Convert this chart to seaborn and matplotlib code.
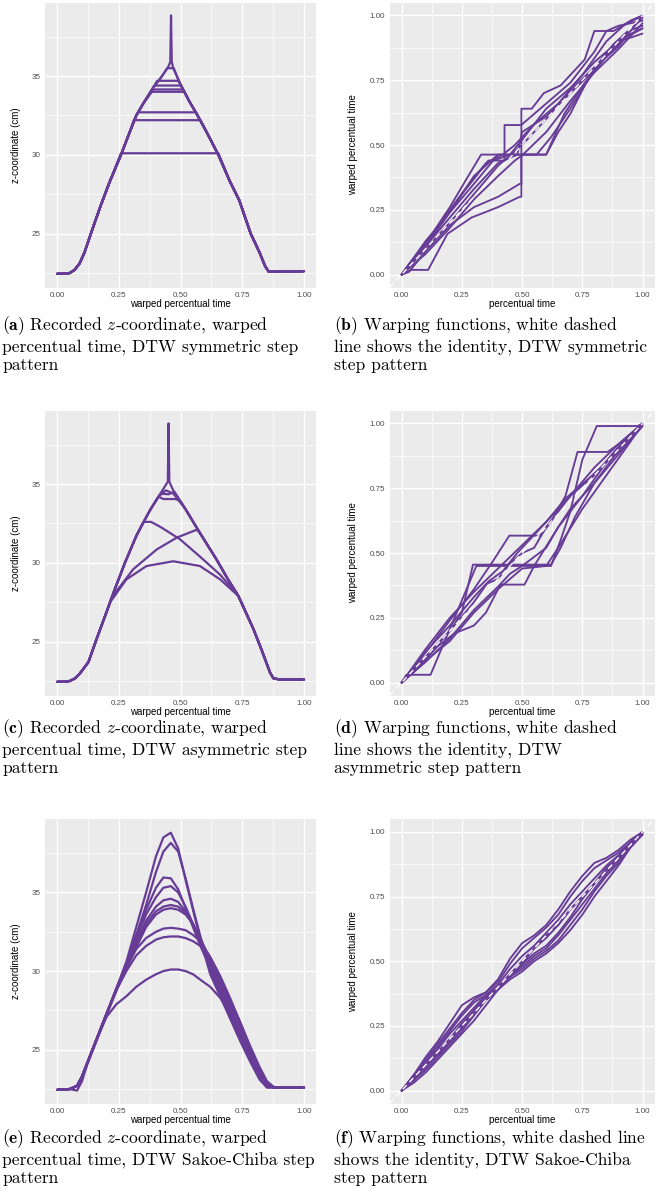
import matplotlib
matplotlib.use("Agg")
import numpy as np
import pandas as pd
import matplotlib.pyplot as plt
import seaborn as sns

PURPLE = "#673c97"

# ---------- (a) DTW symmetric: shared profile + plateaus ----------
a_rise_x = [0.00, 0.03, 0.05, 0.07, 0.09, 0.11, 0.136, 0.174, 0.21, 0.258, 0.29, 0.32, 0.35, 0.39, 0.42, 0.45, 0.458]
a_rise_z = [22.45, 22.45, 22.5, 22.7, 23.1, 23.8, 25.0, 26.7, 28.2, 30.0, 31.3, 32.5, 33.3, 34.3, 34.9, 35.6, 35.9]
a_fall_x = [0.464, 0.47, 0.49, 0.505, 0.535, 0.565, 0.60, 0.653, 0.70, 0.738, 0.784, 0.82, 0.842, 0.856, 0.90, 1.00]
a_fall_z = [35.9, 35.5, 34.8, 34.3, 33.4, 32.6, 31.6, 30.0, 28.3, 27.1, 25.0, 23.8, 22.95, 22.6, 22.6, 22.62]
a_spike = (0.461, 38.85)
a_level = [30.1, 32.2, 32.7, 34.0, 34.15, 34.4, 34.7, 35.5]
a_start = [0.258, 0.31, 0.33, 0.383, 0.388, 0.395, 0.405, 0.446]
a_end = [0.653, 0.58, 0.563, 0.515, 0.51, 0.50, 0.49, 0.472]

# ---------- (c) DTW asymmetric: shared profile + side branches ----------
c_rise_x = [0.00, 0.03, 0.05, 0.07, 0.09, 0.126, 0.16, 0.20, 0.23, 0.274, 0.32, 0.35, 0.378, 0.41, 0.448]
c_rise_z = [22.45, 22.45, 22.5, 22.65, 22.95, 23.7, 25.2, 26.9, 28.2, 30.0, 31.7, 32.6, 33.4, 34.2, 35.15]
c_fall_x = [0.454, 0.47, 0.52, 0.578, 0.646, 0.69, 0.734, 0.795, 0.83, 0.862, 0.876, 0.90, 1.00]
c_fall_z = [35.15, 34.6, 33.4, 31.9, 30.2, 29.0, 27.9, 25.8, 24.4, 23.05, 22.67, 22.6, 22.6]
c_spike = (0.451, 38.85)
c_branch_x = [
    [0.214, 0.28, 0.362, 0.47, 0.578, 0.66, 0.734],
    [0.22, 0.308, 0.403, 0.484, 0.565, 0.578],
    [0.35, 0.38, 0.416, 0.497, 0.578, 0.66, 0.734],
    [0.41, 0.44, 0.47, 0.49],
    [0.41, 0.43, 0.48, 0.50],
    [0.42, 0.45, 0.475],
]
c_branch_z = [
    [27.5, 28.95, 29.8, 30.1, 29.8, 28.95, 27.9],
    [27.8, 29.6, 30.85, 31.6, 32.1, 31.9],
    [32.6, 32.6, 32.3, 31.5, 30.4, 29.25, 27.9],
    [34.2, 34.6, 34.4, 34.0],
    [34.2, 34.05, 34.05, 33.9],
    [34.4, 34.35, 34.5],
]

# ---------- (e) DTW Sakoe-Chiba ----------
e_x = [0.00, 0.05, 0.08, 0.10, 0.12, 0.16, 0.20, 0.24, 0.28, 0.32, 0.36, 0.40, 0.43, 0.46,
       0.49, 0.52, 0.55, 0.58, 0.62, 0.66, 0.70, 0.74, 0.78, 0.82, 0.85, 0.88, 1.00]
e_z = [
    [22.45, 22.5, 22.7, 23.3, 24.1, 25.7, 27.3, 28.9, 30.6, 32.8, 35.0, 37.3, 38.5, 38.8, 37.8, 35.8, 33.9, 32.0, 29.8, 28.4, 27.0, 25.6, 24.3, 23.1, 22.6, 22.6, 22.6],
    [22.45, 22.5, 22.7, 23.3, 24.1, 25.7, 27.3, 28.9, 30.5, 32.3, 34.2, 36.3, 37.6, 38.15, 37.6, 35.9, 34.0, 32.2, 30.0, 28.6, 27.2, 25.8, 24.5, 23.3, 22.7, 22.6, 22.6],
    [22.45, 22.5, 22.4, 23.0, 24.0, 25.6, 27.2, 28.8, 30.5, 32.2, 33.9, 35.3, 35.95, 35.9, 35.2, 34.0, 32.8, 31.6, 30.2, 28.8, 27.4, 25.9, 24.4, 23.2, 22.6, 22.6, 22.6],
    [22.45, 22.5, 22.7, 23.3, 24.1, 25.7, 27.3, 28.9, 30.4, 32.0, 33.6, 34.7, 35.3, 35.4, 35.0, 34.1, 33.0, 31.9, 30.4, 29.0, 27.6, 26.0, 24.6, 23.3, 22.7, 22.6, 22.6],
    [22.45, 22.5, 22.7, 23.3, 24.1, 25.7, 27.3, 28.9, 30.3, 31.8, 33.2, 34.1, 34.5, 34.6, 34.4, 33.8, 33.0, 31.9, 30.5, 29.2, 27.8, 26.3, 24.8, 23.4, 22.7, 22.6, 22.6],
    [22.45, 22.5, 22.7, 23.3, 24.1, 25.7, 27.3, 28.9, 30.3, 31.7, 33.0, 33.8, 34.1, 34.2, 34.1, 33.7, 33.0, 32.0, 30.6, 29.3, 28.0, 26.6, 25.1, 23.7, 22.8, 22.6, 22.6],
    [22.45, 22.5, 22.7, 23.3, 24.1, 25.7, 27.3, 28.8, 30.2, 31.5, 32.8, 33.6, 33.9, 34.0, 33.9, 33.6, 33.0, 32.1, 30.7, 29.4, 28.1, 26.8, 25.3, 23.9, 23.0, 22.6, 22.6],
    [22.45, 22.5, 22.7, 23.3, 24.1, 25.7, 27.3, 28.8, 30.2, 31.4, 32.1, 32.5, 32.7, 32.75, 32.7, 32.6, 32.3, 31.9, 30.9, 29.7, 28.3, 26.8, 25.2, 23.6, 22.8, 22.6, 22.6],
    [22.45, 22.5, 22.7, 23.3, 24.1, 25.7, 27.3, 28.8, 30.0, 31.0, 31.6, 32.0, 32.15, 32.2, 32.2, 32.1, 31.9, 31.6, 30.8, 29.6, 28.2, 26.7, 25.0, 23.4, 22.7, 22.6, 22.6],
    [22.45, 22.5, 22.7, 23.3, 24.1, 25.7, 27.1, 27.9, 28.4, 29.0, 29.45, 29.8, 30.0, 30.1, 30.1, 30.0, 29.8, 29.45, 29.0, 28.3, 27.4, 26.2, 24.8, 23.4, 22.7, 22.6, 22.6],
]

# ---------- (b) warping functions, symmetric ----------
b_x = [
    [0, .03, .10, .20, .27, .33, .60, .65, .70, .76, .82, .88, .94, 1.0],
    [0, .02, .10, .20, .30, .40, .497, .497, .54, .59, .66, .76, .80, .88, .95, 1.0],
    [0, .04, .11, .19, .29, .40, .49, .497, .497, .60, .675, .76, .84, .92, 1.0],
    [0, .03, .10, .20, .30, .40, .49, .497, .497, .56, .62, .70, .78, .86, .93, 1.0],
    [0, .05, .15, .25, .36, .427, .427, .497, .50, .60, .70, .80, .85, .90, 1.0],
    [0, .10, .20, .30, .40, .45, .50, .60, .70, .80, .90, 1.0],
    [0, .10, .20, .30, .38, .45, .50, .60, .70, .80, .90, 1.0],
    [0, .10, .20, .30, .40, .47, .50, .60, .70, .80, .90, 1.0],
    [0, .10, .20, .30, .40, .48, .50, .60, .70, .80, .90, 1.0],
    [0, .10, .20, .28, .35, .42, .47, .55, .65, .75, .85, .92, 1.0],
]
b_y = [
    [0, .04, .12, .26, .37, .463, .463, .55, .62, .73, .82, .89, .94, .96],
    [0, .02, .11, .24, .38, .463, .463, .64, .64, .70, .73, .83, .94, .94, .98, 1.0],
    [0, .018, .018, .157, .22, .26, .30, .30, .463, .463, .62, .74, .83, .905, .93],
    [0, .01, .09, .19, .26, .30, .35, .35, .463, .463, .53, .64, .76, .86, .92, .95],
    [0, .06, .18, .31, .44, .44, .577, .577, .58, .66, .74, .86, .94, .96, .98],
    [0, .10, .20, .31, .42, .46, .50, .60, .71, .80, .88, 1.0],
    [0, .13, .24, .35, .44, .463, .52, .64, .72, .82, .90, .99],
    [0, .08, .18, .29, .38, .44, .46, .55, .67, .78, .87, .97],
    [0, .11, .22, .33, .43, .463, .55, .61, .70, .79, .90, .95],
    [0, .12, .25, .35, .43, .463, .50, .58, .66, .77, .90, .96, 1.0],
]

# ---------- (d) warping functions, asymmetric ----------
d_x = [
    [0, .02, .12, .31, .62, .66, .70, .75, .81, .98, 1.0],
    [0, .05, .12, .20, .30, .38, .447, .575, .62, .68, .73, .855, .90, .95, 1.0],
    [0, .05, .10, .20, .25, .296, .62, .66, .72, .80, .88, .94, 1.0],
    [0, .05, .15, .22, .30, .35, .41, .51, .55, .65, .75, .85, .93, 1.0],
    [0, .05, .10, .20, .30, .35, .40, .45, .50, .55, .60, .70, .80, .90, 1.0],
    [0, .10, .20, .30, .40, .45, .50, .60, .65, .70, .80, .90, 1.0],
    [0, .10, .20, .30, .36, .42, .48, .55, .62, .70, .80, .90, 1.0],
    [0, .10, .20, .30, .40, .50, .60, .68, .78, .85, .90, 1.0],
    [0, .08, .20, .30, .40, .50, .60, .65, .75, .85, .95, 1.0],
]
d_y = [
    [0, .03, .03, .45, .45, .55, .66, .86, .99, .99, 1.0],
    [0, .06, .14, .24, .36, .47, .567, .567, .62, .72, .89, .89, .92, .96, 1.0],
    [0, .05, .09, .20, .27, .455, .455, .52, .64, .77, .87, .93, .99],
    [0, .04, .14, .19, .22, .27, .378, .378, .45, .60, .72, .85, .93, 1.0],
    [0, .05, .12, .22, .33, .38, .40, .46, .50, .52, .60, .72, .80, .91, 1.0],
    [0, .08, .17, .28, .37, .42, .45, .52, .60, .67, .77, .88, .99],
    [0, .10, .20, .31, .39, .43, .50, .57, .64, .72, .83, .92, 1.0],
    [0, .13, .25, .35, .44, .53, .62, .71, .79, .85, .90, 1.0],
    [0, .07, .16, .27, .36, .44, .45, .52, .67, .80, .93, 1.0],
]

# ---------- (f) warping functions, Sakoe-Chiba ----------
f_x = [0, .05, .10, .15, .20, .25, .30, .35, .40, .45, .50, .55, .60, .65, .70, .75, .80, .85, .90, .95, 1.0]
f_y = [
    [0, .06, .13, .19, .26, .33, .36, .38, .43, .51, .57, .60, .64, .70, .77, .83, .88, .90, .93, .97, 1.0],
    [0, .05, .12, .18, .24, .30, .35, .38, .42, .49, .55, .59, .63, .68, .75, .81, .86, .89, .92, .96, 1.0],
    [0, .05, .11, .16, .22, .27, .32, .37, .41, .47, .52, .56, .61, .66, .72, .77, .82, .87, .91, .96, 1.0],
    [0, .05, .10, .15, .20, .26, .31, .36, .40, .45, .50, .55, .59, .64, .70, .75, .80, .85, .90, .95, 1.0],
    [0, .04, .08, .13, .18, .23, .29, .35, .40, .44, .48, .52, .55, .60, .66, .72, .78, .84, .89, .95, .99],
    [0, .03, .07, .12, .17, .22, .27, .33, .39, .43, .46, .50, .53, .57, .62, .68, .75, .81, .87, .94, .99],
    [0, .04, .09, .14, .19, .25, .31, .36, .40, .45, .49, .53, .56, .61, .67, .74, .80, .86, .90, .96, 1.0],
    [0, .06, .11, .17, .23, .29, .34, .37, .40, .44, .49, .55, .60, .64, .70, .75, .80, .86, .90, .95, 1.0],
    [0, .05, .10, .14, .19, .24, .30, .35, .39, .44, .47, .51, .54, .58, .64, .70, .77, .83, .88, .94, .99],
]

captions = [
    r"$\mathbf{(a)}$ Recorded $z$-coordinate, warped" + "\npercentual time, DTW symmetric step\npattern",
    r"$\mathbf{(b)}$ Warping functions, white dashed" + "\nline shows the identity, DTW symmetric\nstep pattern",
    r"$\mathbf{(c)}$ Recorded $z$-coordinate, warped" + "\npercentual time, DTW asymmetric step\npattern",
    r"$\mathbf{(d)}$ Warping functions, white dashed" + "\nline shows the identity, DTW\nasymmetric step pattern",
    r"$\mathbf{(e)}$ Recorded $z$-coordinate, warped" + "\npercentual time, DTW Sakoe-Chiba step\npattern",
    r"$\mathbf{(f)}$ Warping functions, white dashed line" + "\nshows the identity, DTW Sakoe-Chiba\nstep pattern",
]


def to_frame(xs, ys):
    rows = []
    for i, (cx, cy) in enumerate(zip(xs, ys)):
        for k, (px, py) in enumerate(zip(cx, cy)):
            rows.append((i, k, px, py))
    return pd.DataFrame(rows, columns=["curve", "order", "x", "y"])


def plateau_curves(rx, rz, fx, fz, spike, levels, starts, ends):
    xs, ys = [], []
    xs.append(list(rx) + [spike[0]] + list(fx))
    ys.append(list(rz) + [spike[1]] + list(fz))
    for lv, s, e in zip(levels, starts, ends):
        cx = [v for v in rx if v < s] + [s, e] + [v for v in fx if v > e]
        cz = [z for v, z in zip(rx, rz) if v < s] + [lv, lv] + [z for v, z in zip(fx, fz) if v > e]
        xs.append(cx)
        ys.append(cz)
    return xs, ys


def branch_curves(rx, rz, fx, fz, spike, bx, bz):
    xs, ys = [], []
    xs.append(list(rx) + [spike[0]] + list(fx))
    ys.append(list(rz) + [spike[1]] + list(fz))
    for mx, mz in zip(bx, bz):
        cx = [v for v in rx if v < mx[0]] + list(mx) + [v for v in fx if v > mx[-1]]
        cz = [z for v, z in zip(rx, rz) if v < mx[0]] + list(mz) + [z for v, z in zip(fx, fz) if v > mx[-1]]
        xs.append(cx)
        ys.append(cz)
    return xs, ys


sns.set_theme(style="darkgrid")
plt.rcParams["font.family"] = ["Liberation Sans", "DejaVu Sans"]
plt.rcParams["mathtext.fontset"] = "cm"

fig = plt.figure(figsize=(6.62, 12.0), dpi=100)
W, H = 662.0, 1200.0
rows_px = [(2.5, 287.5), (410.5, 695.5), (819.0, 1103.5)]
left_px = (45.0, 271.3)
right_px = (389.6, 265.0)


def make_ax(col, row):
    lx, wx = left_px if col == 0 else right_px
    top, bot = rows_px[row]
    return fig.add_axes([lx / W, 1 - bot / H, wx / W, (bot - top) / H])


def style(ax, xlabel, ylabel, ylim, yticks, yminor, yfmt, ylab_x):
    ax.set_facecolor("#EBEBEB")
    ax.set_xlim(-0.05, 1.05)
    ax.set_ylim(*ylim)
    ax.set_xticks([0, 0.25, 0.5, 0.75, 1.0])
    ax.set_xticklabels(["0.00", "0.25", "0.50", "0.75", "1.00"])
    ax.set_xticks([0.125, 0.375, 0.625, 0.875], minor=True)
    ax.set_yticks(yticks)
    ax.set_yticklabels([yfmt.format(v) for v in yticks])
    ax.set_yticks(yminor, minor=True)
    ax.grid(which="major", color="white", lw=1.0)
    ax.grid(which="minor", color="white", lw=0.5)
    ax.set_axisbelow(True)
    for s in ax.spines.values():
        s.set_visible(False)
    ax.tick_params(which="minor", length=0)
    ax.tick_params(which="major", length=2.2, width=0.6, color="#333333",
                   labelsize=5.8, labelcolor="#4D4D4D", pad=1.2)
    ax.set_xlabel(xlabel, fontsize=7, color="black")
    ax.set_ylabel(ylabel, fontsize=7, color="black")
    ax.xaxis.set_label_coords(0.5, -0.041)
    ax.yaxis.set_label_coords(ylab_x, 0.5)


def draw_profiles(ax, df):
    sns.lineplot(data=df, x="x", y="y", units="curve", estimator=None, sort=False,
                 color=PURPLE, lw=1.6, legend=False, ax=ax)
    style(ax, "warped percentual time", "z-coordinate (cm)", (21.58, 39.67),
          [25, 30, 35], [22.5, 27.5, 32.5, 37.5], "{:.0f}", -0.09)


def draw_warps(ax, df):
    sns.lineplot(data=df, x="x", y="y", units="curve", estimator=None, sort=False,
                 color=PURPLE, lw=1.35, legend=False, ax=ax)
    ax.plot([-0.05, 1.05], [-0.05, 1.05], color="white", lw=1.0,
            ls=(0, (4, 3)), zorder=5)
    style(ax, "percentual time", "warped percentual time", (-0.05, 1.05),
          [0, 0.25, 0.5, 0.75, 1.0], [0.125, 0.375, 0.625, 0.875], "{:.2f}", -0.118)


ax = make_ax(0, 0)
draw_profiles(ax, to_frame(*plateau_curves(a_rise_x, a_rise_z, a_fall_x, a_fall_z,
                                           a_spike, a_level, a_start, a_end)))
ax = make_ax(1, 0)
draw_warps(ax, to_frame(b_x, b_y))

ax = make_ax(0, 1)
draw_profiles(ax, to_frame(*branch_curves(c_rise_x, c_rise_z, c_fall_x, c_fall_z,
                                          c_spike, c_branch_x, c_branch_z)))
ax = make_ax(1, 1)
draw_warps(ax, to_frame(d_x, d_y))

ax = make_ax(0, 2)
draw_profiles(ax, to_frame([e_x] * len(e_z), e_z))
ax = make_ax(1, 2)
draw_warps(ax, to_frame([f_x] * len(f_y), f_y))

cap_tops = [314, 717, 1127]
for i, txt in enumerate(captions):
    r, c = divmod(i, 2)
    x = 2 if c == 0 else 334
    fig.text(x / W, 1 - cap_tops[r] / H, txt, family="cmr10", fontsize=12.6,
             va="top", ha="left", linespacing=1.2, color="black")

fig.savefig("out.png", dpi=100)
